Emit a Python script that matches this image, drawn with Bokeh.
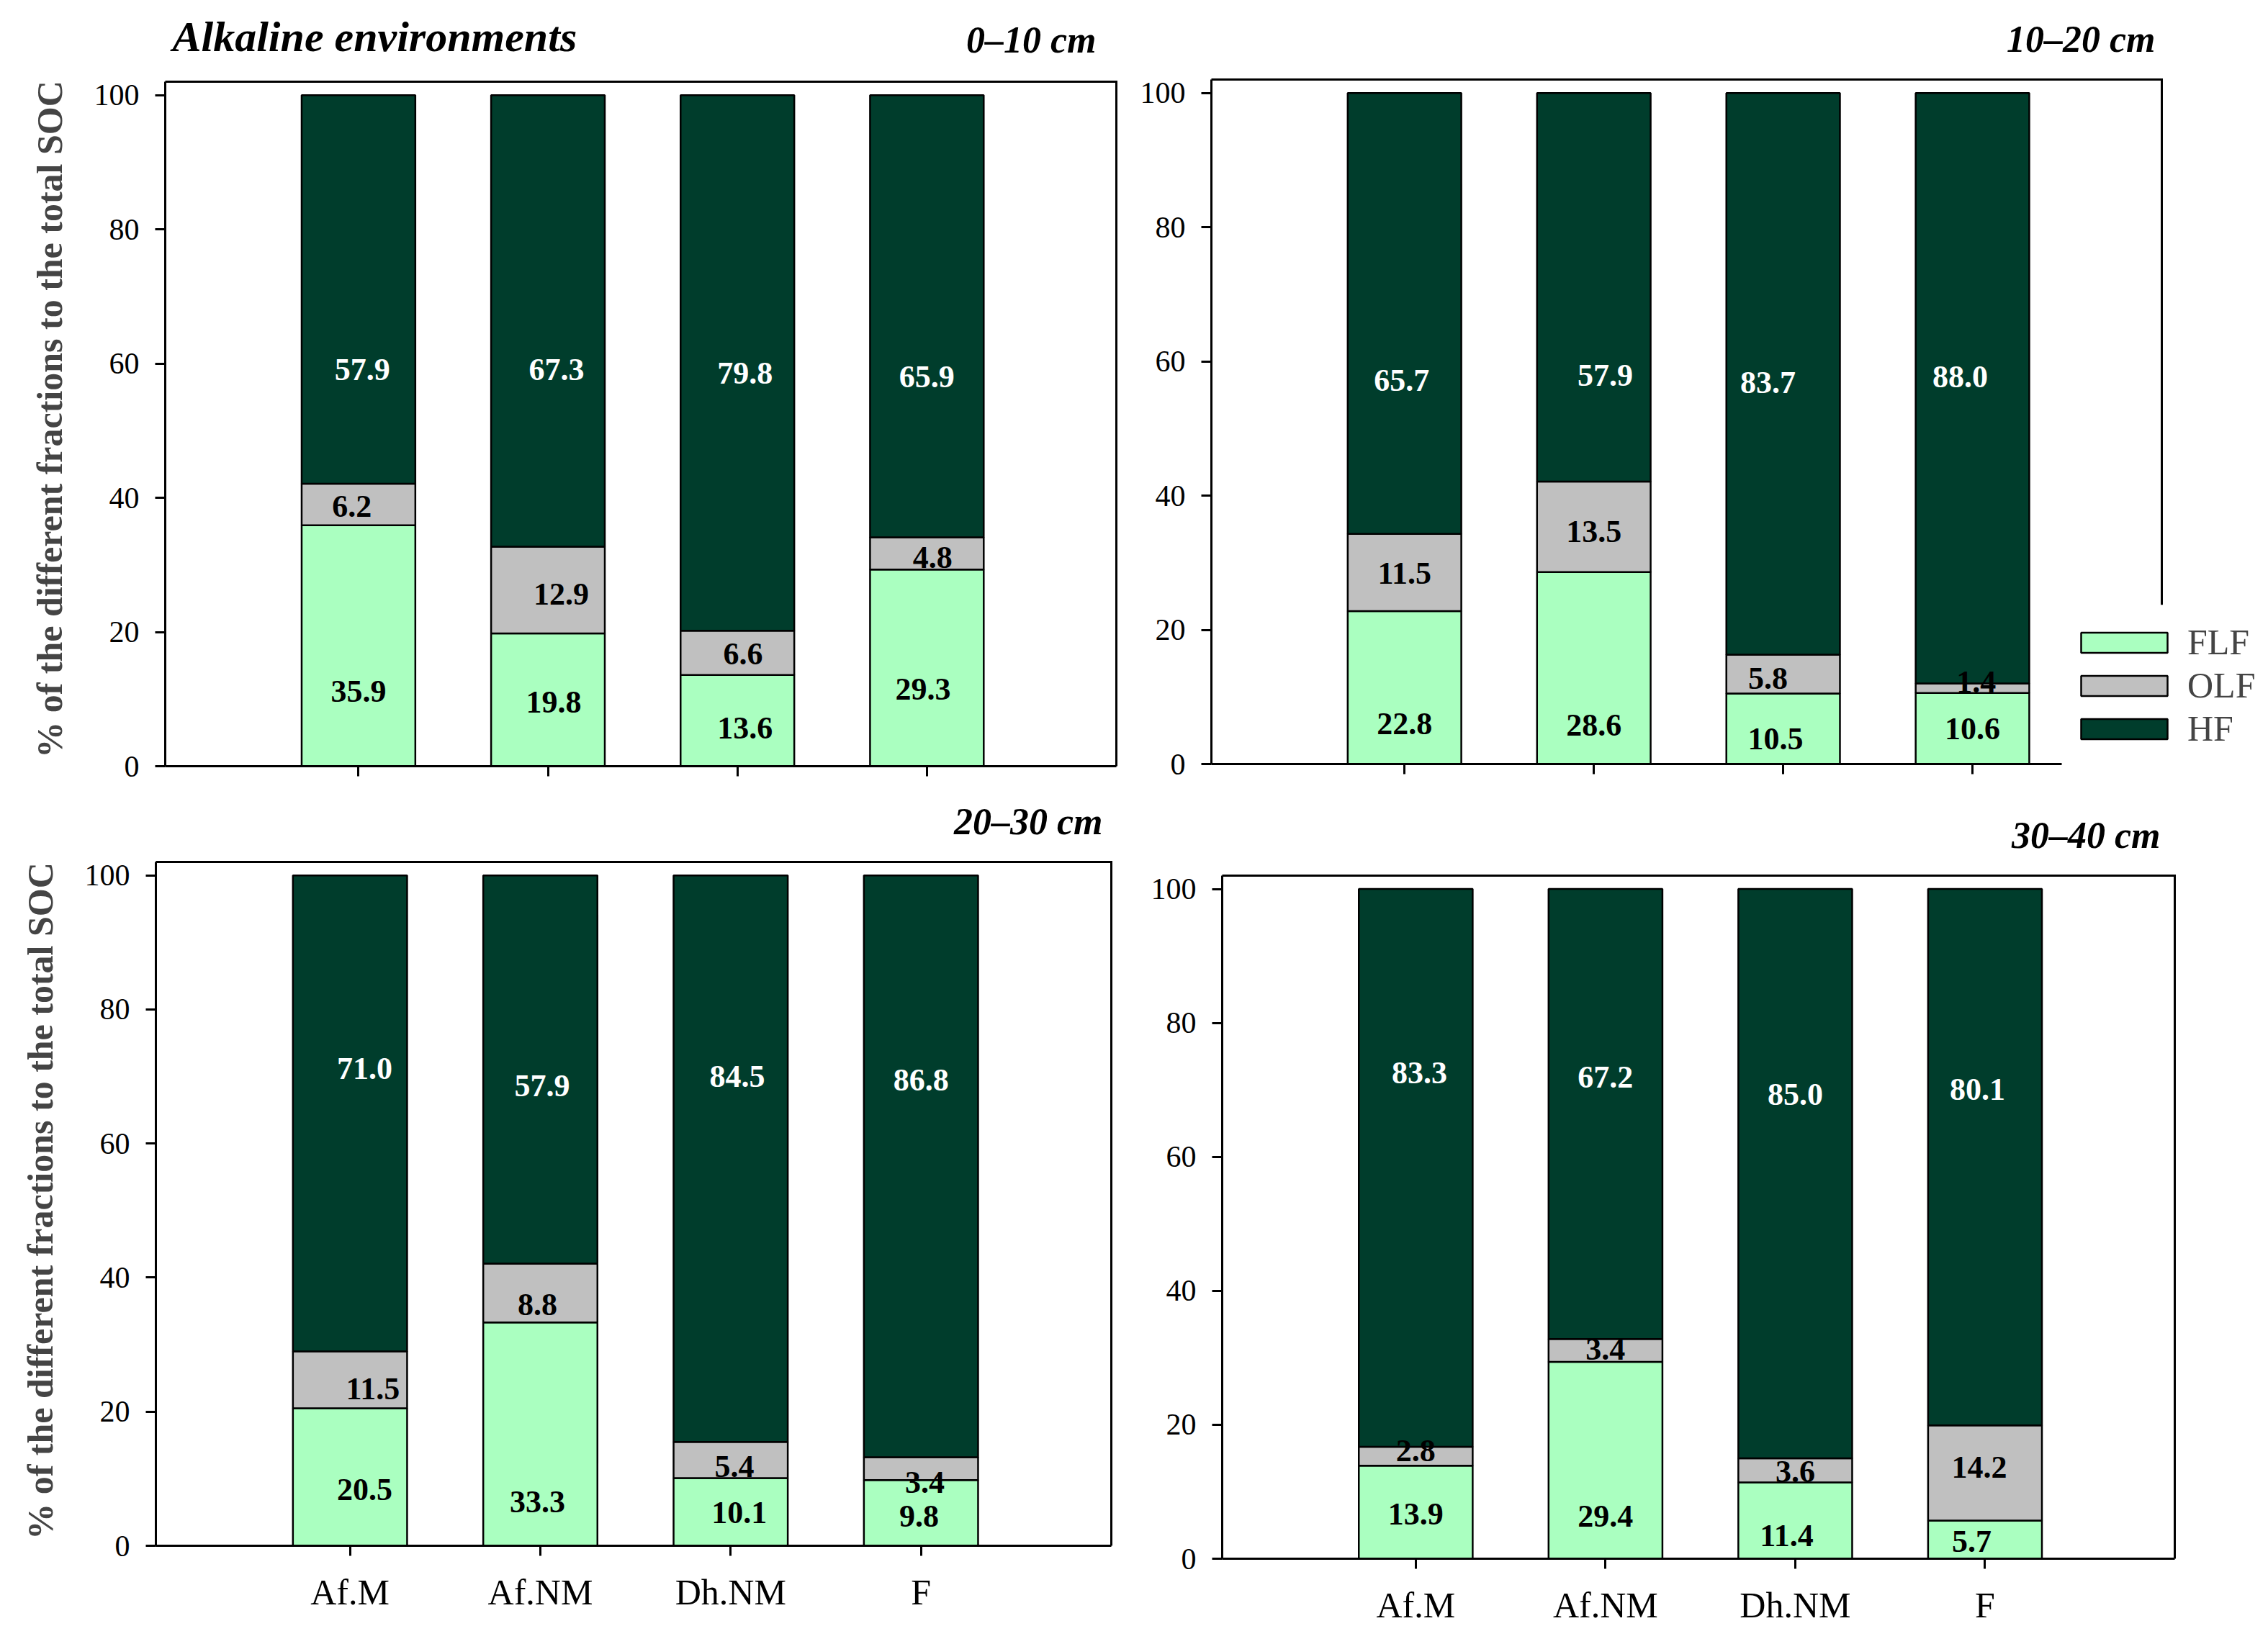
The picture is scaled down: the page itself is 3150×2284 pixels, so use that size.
from bokeh.plotting import figure
from bokeh.models import ColumnDataSource, FixedTicker, Legend, LegendItem, Range1d
from bokeh.layouts import column, row
from bokeh.embed import file_html
from bokeh.resources import INLINE
from bokeh.core.properties import value

# ---------------- data ----------------
categories = ["Af.M", "Af.NM", "Dh.NM", "F"]
fractions = ["FLF", "OLF", "HF"]
depths = ["0–10 cm", "10–20 cm", "20–30 cm", "30–40 cm"]
y_ticks = [0, 20, 40, 60, 80, 100]
main_title = "Alkaline environments"
y_label = "% of the different fractions to the total SOC"

flf_0_10 = [35.9, 19.8, 13.6, 29.3]
olf_0_10 = [6.2, 12.9, 6.6, 4.8]
hf_0_10 = [57.9, 67.3, 79.8, 65.9]

flf_10_20 = [22.8, 28.6, 10.5, 10.6]
olf_10_20 = [11.5, 13.5, 5.8, 1.4]
hf_10_20 = [65.7, 57.9, 83.7, 88.0]

flf_20_30 = [20.5, 33.3, 10.1, 9.8]
olf_20_30 = [8.5, 8.8, 5.4, 3.4]                 # bar heights as drawn
olf_label_20_30 = ["11.5", "8.8", "5.4", "3.4"]  # values printed on the bars
hf_20_30 = [71.0, 57.9, 84.5, 86.8]

flf_30_40 = [13.9, 29.4, 11.4, 5.7]
olf_30_40 = [2.8, 3.4, 3.6, 14.2]
hf_30_40 = [83.3, 67.2, 85.0, 80.1]

# ---------------- label placement (data units) ----------------
lab_y_0_10 = [[11.2, 9.5, 5.7, 11.5], [38.7, 25.6, 16.7, 31.1], [59.1, 59.1, 58.6, 58.0]]
lab_dx_0_10 = [[0.0, 0.03, 0.04, -0.02], [-0.035, 0.07, 0.03, 0.03], [0.02, 0.045, 0.04, 0.0]]
lab_y_10_20 = [[6.0, 5.8, 3.8, 5.3], [28.4, 34.6, 12.8, 12.2], [57.2, 57.9, 56.8, 57.7]]
lab_dx_10_20 = [[0.0, 0.0, -0.04, 0.0], [0.0, 0.0, -0.08, 0.02], [-0.015, 0.06, -0.08, -0.065]]
lab_y_20_30 = [[8.4, 6.6, 4.9, 4.4], [23.4, 36.0, 11.8, 9.4], [71.2, 68.6, 70.0, 69.5]]
lab_dx_20_30 = [[0.077, -0.015, 0.045, -0.01], [0.12, -0.015, 0.02, 0.02], [0.077, 0.01, 0.035, 0.0]]
lab_y_30_40 = [[6.7, 6.3, 3.4, 2.6], [16.1, 31.3, 13.0, 13.6], [72.6, 71.9, 69.3, 70.1]]
lab_dx_30_40 = [[0.0, 0.0, -0.045, -0.07], [0.0, 0.0, 0.0, -0.03], [0.02, 0.0, 0.0, -0.04]]

FONT = "Liberation Serif"
COLORS = ["#aaffc0", "#c0c0c0", "#003d2c"]
TEXT_COLORS = ["black", "black", "white"]
X_LO, X_HI, Y_HI = -0.02, 5.0, 102.0
PAGE_W = 3148


def no_frame_align(p):
    if "frame_align" in p.properties():
        p.frame_align = False


def style_axis(ax, size, show_labels=True, standoff=22):
    ax.axis_line_width = 3
    ax.axis_line_color = "black"
    ax.major_tick_line_width = 3
    ax.major_tick_in = 0
    ax.major_tick_out = 14
    ax.minor_tick_line_color = None
    ax.major_label_text_font = FONT
    if show_labels:
        ax.major_label_text_font_size = size
        ax.major_label_standoff = standoff
        ax.major_label_text_color = "black"
    else:
        ax.major_label_text_font_size = "1px"
        ax.major_label_standoff = 0
        ax.major_label_text_color = None


def make_panel(flf, olf, hf, texts, lab_y, lab_dx, W, H, L, R, T, B,
               show_x, show_ylabel, legend=False, x_axis_end=X_HI, right_line_from=0.0):
    inner_w = W - L - R
    inner_h = H - T - B
    x_end = X_HI + R * (X_HI - X_LO) / inner_w
    y_end = Y_HI + T * Y_HI / inner_h
    p = figure(width=W, height=H, x_range=Range1d(X_LO, x_end), y_range=Range1d(0, y_end),
               output_backend="svg", toolbar_location=None,
               min_border_left=L, min_border_right=0, min_border_top=0, min_border_bottom=B)
    no_frame_align(p)
    p.title = None
    p.background_fill_color = "white"
    p.border_fill_color = "white"
    p.outline_line_color = None
    p.grid.visible = False

    xs = list(range(1, len(categories) + 1))
    src = ColumnDataSource(dict(x=xs, FLF=flf, OLF=olf, HF=hf))
    rs = p.vbar_stack(fractions, x="x", width=0.6, source=src,
                      fill_color=COLORS, line_color="black", line_width=2.5)

    # top and right frame lines
    p.segment(x0=[X_LO, X_HI], y0=[Y_HI, right_line_from], x1=[X_HI, X_HI], y1=[Y_HI, Y_HI],
              line_color="black", line_width=3, line_cap="square")

    # value labels
    lx, ly, lt, lc = [], [], [], []
    for k in range(3):
        for i in range(len(categories)):
            lx.append(xs[i] + lab_dx[k][i])
            ly.append(lab_y[k][i])
            lt.append(texts[k][i])
            lc.append(TEXT_COLORS[k])
    tsrc = ColumnDataSource(dict(x=lx, y=ly, text=lt, color=lc))
    p.text(x="x", y="y", text="text", text_color="color", source=tsrc,
           text_font=value(FONT), text_font_style="bold", text_font_size="44px",
           text_align="center", text_baseline="middle")

    # axes
    yax = p.yaxis[0]
    yax.ticker = FixedTicker(ticks=y_ticks)
    yax.bounds = (0, Y_HI)
    style_axis(yax, "42px")
    if show_ylabel:
        yax.axis_label = y_label
        yax.axis_label_text_font = FONT
        yax.axis_label_text_font_style = "bold"
        yax.axis_label_text_font_size = "50px"
        yax.axis_label_standoff = 31
    xax = p.xaxis[0]
    xax.ticker = FixedTicker(ticks=xs)
    xax.bounds = (X_LO, x_axis_end)
    xax.major_label_overrides = {x: c for x, c in zip(xs, categories)}
    style_axis(xax, "50px", show_x)

    if legend:
        items = [LegendItem(label=f, renderers=[r]) for f, r in zip(fractions, rs)]
        leg = Legend(items=items, location=(1193, 20), orientation="vertical",
                     glyph_width=150, glyph_height=35, label_standoff=13, spacing=2,
                     padding=30, margin=0,
                     label_text_font=FONT, label_text_font_size="50px",
                     background_fill_color="white", background_fill_alpha=1.0,
                     border_line_color=None)
        p.add_layout(leg)
    return p


def title_strip(height, texts, xs, ys, aligns, sizes):
    s = figure(width=PAGE_W, height=height, x_range=Range1d(0, PAGE_W), y_range=Range1d(height, 0),
               output_backend="svg", toolbar_location=None,
               x_axis_location=None, y_axis_location=None, min_border=0)
    no_frame_align(s)
    s.title = None
    s.outline_line_color = None
    s.grid.visible = False
    src = ColumnDataSource(dict(x=xs, y=ys, text=texts, align=aligns, size=sizes))
    s.text(x="x", y="y", text="text", source=src, text_align="align", text_font_size="size",
           text_font=value(FONT), text_font_style="bold italic", text_color="black",
           text_baseline="middle")
    return s


def fmt(vals):
    return [f"{v:.1f}" for v in vals]


strip1 = title_strip(100, [main_title, depths[0], depths[1]], [239, 1522, 2993], [50, 55, 54],
                     ["left", "right", "right"], ["60px", "52px", "52px"])
strip2 = title_strip(84, [depths[2], depths[3]], [1531, 3000], [36, 55],
                     ["right", "right"], ["52px", "52px"])

p1 = make_panel(flf_0_10, olf_0_10, hf_0_10,
                [fmt(flf_0_10), fmt(olf_0_10), fmt(hf_0_10)], lab_y_0_10, lab_dx_0_10,
                1565, 1005, 229, 15, 13, 41, False, True)
p2 = make_panel(flf_10_20, olf_10_20, hf_10_20,
                [fmt(flf_10_20), fmt(olf_10_20), fmt(hf_10_20)], lab_y_10_20, lab_dx_10_20,
                1583, 1005, 117, 146, 10, 44, False, False, legend=True, x_axis_end=4.47,
                right_line_from=23.9)
p3 = make_panel(flf_20_30, olf_20_30, hf_20_30,
                [fmt(flf_20_30), olf_label_20_30, fmt(hf_20_30)], lab_y_20_30, lab_dx_20_30,
                1580, 1094, 216, 37, 8, 136, True, True)
p4 = make_panel(flf_30_40, olf_30_40, hf_30_40,
                [fmt(flf_30_40), fmt(olf_30_40), fmt(hf_30_40)], lab_y_30_40, lab_dx_30_40,
                1568, 1094, 117, 128, 27, 118, True, False)

layout = column(strip1, row(p1, p2, spacing=0), strip2, row(p3, p4, spacing=0), spacing=0)
open("out.html", "w").write(file_html(layout, INLINE))
